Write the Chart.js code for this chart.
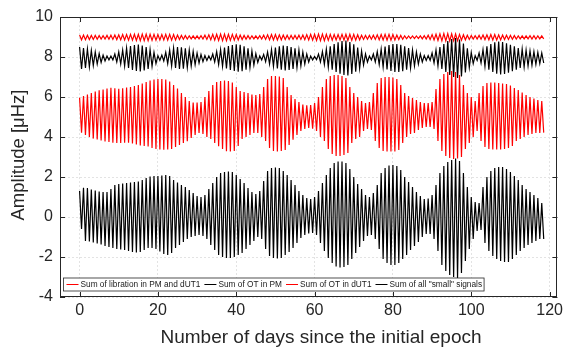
<!DOCTYPE html>
<html>
<head>
<meta charset="utf-8">
<script src="https://cdn.jsdelivr.net/npm/chart.js@4"></script>
<style>
  html, body { margin: 0; padding: 0; background: #fff; }
</style>
</head>
<body>
<canvas id="amplitudes" width="567" height="349"></canvas>
<script>
// Upper and lower swing of each signal, one pair per day (0 .. 118)
const librationHi = [
    9.10, 9.10, 9.09, 9.08, 9.08, 9.07, 9.07, 9.08, 9.09, 9.10,
    9.11, 9.12, 9.12, 9.13, 9.14, 9.14, 9.15, 9.15, 9.14, 9.13,
    9.12, 9.12, 9.13, 9.13, 9.12, 9.10, 9.08, 9.07, 9.06, 9.06,
    9.06, 9.07, 9.09, 9.11, 9.13, 9.14, 9.15, 9.15, 9.14, 9.13,
    9.12, 9.10, 9.08, 9.07, 9.06, 9.06, 9.07, 9.09, 9.11, 9.12,
    9.12, 9.11, 9.10, 9.09, 9.08, 9.08, 9.09, 9.10, 9.12, 9.13,
    9.14, 9.15, 9.15, 9.14, 9.13, 9.12, 9.12, 9.13, 9.14, 9.14,
    9.13, 9.11, 9.09, 9.08, 9.08, 9.09, 9.11, 9.12, 9.13, 9.13,
    9.12, 9.10, 9.08, 9.06, 9.05, 9.05, 9.05, 9.06, 9.07, 9.09,
    9.12, 9.14, 9.16, 9.17, 9.17, 9.16, 9.15, 9.13, 9.11, 9.09,
    9.07, 9.07, 9.08, 9.10, 9.11, 9.12, 9.12, 9.11, 9.10, 9.09,
    9.08, 9.07, 9.06, 9.06, 9.06, 9.07, 9.07, 9.06, 9.06
];
const librationLo = [
    8.86, 8.86, 8.87, 8.88, 8.89, 8.90, 8.90, 8.89, 8.88, 8.87,
    8.86, 8.85, 8.84, 8.84, 8.83, 8.82, 8.82, 8.82, 8.83, 8.84,
    8.85, 8.85, 8.84, 8.84, 8.85, 8.87, 8.89, 8.90, 8.91, 8.91,
    8.91, 8.90, 8.88, 8.86, 8.84, 8.83, 8.82, 8.82, 8.83, 8.84,
    8.85, 8.87, 8.89, 8.90, 8.91, 8.91, 8.90, 8.88, 8.86, 8.85,
    8.85, 8.86, 8.87, 8.88, 8.89, 8.89, 8.88, 8.87, 8.85, 8.84,
    8.83, 8.82, 8.82, 8.83, 8.84, 8.85, 8.85, 8.84, 8.83, 8.83,
    8.84, 8.86, 8.88, 8.89, 8.89, 8.88, 8.86, 8.85, 8.84, 8.84,
    8.85, 8.87, 8.89, 8.91, 8.92, 8.92, 8.92, 8.91, 8.90, 8.88,
    8.85, 8.83, 8.81, 8.80, 8.80, 8.81, 8.82, 8.84, 8.86, 8.88,
    8.90, 8.90, 8.89, 8.87, 8.86, 8.85, 8.85, 8.86, 8.87, 8.88,
    8.89, 8.90, 8.91, 8.91, 8.91, 8.90, 8.90, 8.91, 8.91
];

const otPmHi = [
    8.50, 8.45, 8.40, 8.33, 8.25, 8.17, 8.10, 8.05, 8.05, 8.15,
    8.25, 8.35, 8.45, 8.55, 8.60, 8.62, 8.57, 8.50, 8.37, 8.23,
    8.07, 8.10, 8.23, 8.35, 8.45, 8.50, 8.48, 8.43, 8.35, 8.28,
    8.20, 8.13, 8.07, 8.05, 8.15, 8.27, 8.37, 8.47, 8.55, 8.60,
    8.63, 8.61, 8.53, 8.43, 8.30, 8.17, 8.05, 8.13, 8.25, 8.37,
    8.47, 8.53, 8.57, 8.55, 8.50, 8.43, 8.35, 8.25, 8.15, 8.05,
    8.03, 8.15, 8.27, 8.40, 8.53, 8.65, 8.73, 8.80, 8.82, 8.75,
    8.63, 8.47, 8.30, 8.15, 8.05, 8.15, 8.27, 8.40, 8.52, 8.60,
    8.65, 8.65, 8.61, 8.53, 8.45, 8.35, 8.25, 8.15, 8.07, 8.07,
    8.20, 8.35, 8.50, 8.65, 8.80, 8.90, 8.95, 8.87, 8.67, 8.43,
    8.23, 8.07, 8.20, 8.37, 8.53, 8.65, 8.73, 8.77, 8.75, 8.69,
    8.61, 8.53, 8.45, 8.40, 8.35, 8.31, 8.27, 8.23, 8.20
];
const otPmLo = [
    7.40, 7.45, 7.50, 7.57, 7.65, 7.73, 7.80, 7.85, 7.85, 7.75,
    7.65, 7.55, 7.45, 7.35, 7.30, 7.28, 7.33, 7.40, 7.53, 7.67,
    7.83, 7.80, 7.67, 7.55, 7.45, 7.40, 7.42, 7.47, 7.55, 7.62,
    7.70, 7.77, 7.83, 7.85, 7.75, 7.63, 7.53, 7.43, 7.35, 7.30,
    7.27, 7.29, 7.37, 7.47, 7.60, 7.73, 7.85, 7.77, 7.65, 7.53,
    7.43, 7.37, 7.33, 7.35, 7.40, 7.47, 7.55, 7.65, 7.75, 7.85,
    7.87, 7.75, 7.63, 7.50, 7.37, 7.25, 7.17, 7.10, 7.08, 7.15,
    7.27, 7.43, 7.60, 7.75, 7.85, 7.75, 7.63, 7.50, 7.38, 7.30,
    7.25, 7.25, 7.29, 7.37, 7.45, 7.55, 7.65, 7.75, 7.83, 7.83,
    7.70, 7.55, 7.40, 7.25, 7.10, 7.00, 6.95, 7.03, 7.23, 7.47,
    7.67, 7.83, 7.70, 7.53, 7.37, 7.25, 7.17, 7.13, 7.15, 7.21,
    7.29, 7.37, 7.45, 7.50, 7.55, 7.59, 7.63, 7.67, 7.70
];

const otUt1Hi = [
    5.96, 6.05, 6.12, 6.20, 6.28, 6.34, 6.38, 6.42, 6.46, 6.44,
    6.41, 6.44, 6.47, 6.50, 6.55, 6.60, 6.68, 6.75, 6.82, 6.88,
    6.90, 6.90, 6.88, 6.78, 6.60, 6.42, 6.20, 6.00, 5.80, 5.72,
    5.72, 5.75, 6.00, 6.30, 6.60, 6.75, 6.80, 6.82, 6.80, 6.72,
    6.50, 6.30, 6.25, 6.20, 6.12, 6.10, 6.15, 6.50, 6.90, 7.05,
    7.05, 7.02, 6.95, 6.50, 6.10, 5.90, 5.75, 5.62, 5.58, 5.60,
    5.70, 6.00, 6.50, 6.90, 7.05, 7.10, 7.10, 7.05, 6.95, 6.50,
    6.20, 6.00, 5.80, 5.70, 5.75, 6.20, 6.70, 6.95, 7.00, 7.00,
    6.98, 6.90, 6.60, 6.20, 6.05, 5.95, 5.85, 5.75, 5.70, 5.70,
    5.75, 6.40, 6.90, 7.15, 7.25, 7.30, 7.25, 7.10, 6.60, 6.20,
    6.00, 5.80, 6.20, 6.55, 6.70, 6.72, 6.72, 6.70, 6.68, 6.65,
    6.58, 6.45, 6.35, 6.22, 6.10, 6.00, 5.92, 5.85, 5.80
];
const otUt1Lo = [
    4.21, 4.10, 4.00, 3.92, 3.87, 3.82, 3.78, 3.75, 3.71, 3.70,
    3.70, 3.71, 3.71, 3.68, 3.62, 3.58, 3.55, 3.52, 3.45, 3.40,
    3.37, 3.36, 3.38, 3.40, 3.50, 3.60, 3.70, 3.79, 3.95, 4.10,
    4.20, 4.15, 4.00, 3.90, 3.70, 3.54, 3.40, 3.29, 3.28, 3.30,
    3.55, 3.90, 4.00, 4.10, 4.20, 4.20, 4.00, 3.80, 3.45, 3.30,
    3.28, 3.30, 3.35, 3.60, 3.87, 4.10, 4.30, 4.40, 4.45, 4.42,
    4.30, 4.00, 3.80, 3.40, 3.15, 3.05, 3.05, 3.10, 3.20, 3.70,
    3.90, 4.00, 4.30, 4.40, 4.35, 3.80, 3.45, 3.30, 3.27, 3.27,
    3.28, 3.35, 3.70, 4.00, 4.15, 4.20, 4.35, 4.45, 4.50, 4.50,
    4.40, 3.80, 3.30, 3.05, 2.95, 2.90, 2.92, 3.00, 3.40, 3.70,
    4.00, 4.30, 3.80, 3.50, 3.40, 3.37, 3.37, 3.38, 3.40, 3.45,
    3.55, 3.80, 3.90, 4.00, 4.10, 4.15, 4.20, 4.20, 4.22
];

const smallHi = [
    1.30, 1.46, 1.45, 1.37, 1.32, 1.28, 1.25, 1.25, 1.40, 1.60,
    1.65, 1.68, 1.70, 1.72, 1.75, 1.78, 1.85, 1.95, 2.02, 2.05,
    2.05, 2.08, 2.10, 2.05, 1.85, 1.72, 1.60, 1.50, 1.35, 1.20,
    1.05, 1.00, 1.10, 1.40, 1.70, 2.00, 2.20, 2.25, 2.28, 2.25,
    2.10, 1.90, 1.70, 1.45, 1.25, 1.15, 1.30, 1.80, 2.30, 2.45,
    2.48, 2.45, 2.30, 2.10, 1.85, 1.60, 1.30, 1.10, 0.95, 0.90,
    1.00, 1.30, 1.70, 2.10, 2.45, 2.70, 2.78, 2.78, 2.70, 2.40,
    2.00, 1.65, 1.40, 1.10, 1.00, 1.20, 1.60, 2.20, 2.45, 2.58,
    2.60, 2.55, 2.35, 2.00, 1.75, 1.50, 1.25, 1.05, 0.90, 0.92,
    1.10, 1.60, 2.20, 2.55, 2.75, 2.85, 2.92, 2.80, 2.20, 1.50,
    1.00, 0.75, 0.70, 1.50, 2.00, 2.30, 2.45, 2.50, 2.50, 2.40,
    2.25, 2.05, 1.85, 1.60, 1.40, 1.25, 1.10, 0.95, 0.70
];
const smallLo = [
    -0.60, -1.20, -1.22, -1.28, -1.32, -1.38, -1.45, -1.50, -1.55, -1.60,
    -1.62, -1.65, -1.70, -1.75, -1.78, -1.75, -1.65, -1.55, -1.55, -1.60,
    -1.72, -1.85, -1.90, -1.80, -1.55, -1.40, -1.25, -1.10, -1.00, -0.95,
    -0.90, -0.95, -1.10, -1.40, -1.65, -1.90, -2.00, -2.05, -2.05, -2.00,
    -1.90, -1.80, -1.60, -1.40, -1.20, -1.00, -1.10, -1.60, -1.95, -2.05,
    -2.08, -2.05, -1.90, -1.75, -1.55, -1.30, -1.05, -0.90, -0.82, -0.80,
    -0.90, -1.30, -1.70, -2.05, -2.30, -2.48, -2.52, -2.50, -2.40, -2.10,
    -1.80, -1.50, -1.20, -0.95, -0.90, -1.10, -1.60, -2.10, -2.30, -2.40,
    -2.40, -2.30, -2.10, -1.90, -1.65, -1.45, -1.25, -1.00, -0.85, -0.85,
    -1.10, -1.70, -2.40, -2.70, -2.90, -3.00, -3.05, -2.80, -2.20, -1.60,
    -1.10, -0.70, -0.65, -1.30, -1.70, -1.95, -2.10, -2.20, -2.25, -2.25,
    -2.10, -1.90, -1.70, -1.55, -1.40, -1.30, -1.20, -1.10, -1.10
];

const seriesNames = [
    'Sum of libration in PM and dUT1',
    'Sum of OT in PM',
    'Sum of OT in dUT1',
    'Sum of all "small" signals'
];
const seriesColors = ['#ff0000', '#000000', '#ff0000', '#000000'];
const xTickValues = [0, 20, 40, 60, 80, 100, 120];
const yTickValues = [-4, -2, 0, 2, 4, 6, 8, 10];
const xTitle = 'Number of days since the initial epoch';
const yTitle = 'Amplitude [μHz]';

// one swing up and one swing down per day
function zigzag(hi, lo) {
    const pts = [];
    hi.forEach((h, day) => {
        pts.push({ x: day, y: h });
        pts.push({ x: day + 0.5, y: lo[day] });
    });
    return pts;
}

const swings = [
    [librationHi, librationLo],
    [otPmHi, otPmLo],
    [otUt1Hi, otUt1Lo],
    [smallHi, smallLo]
];

const datasets = swings.map(([hi, lo], i) => ({
    label: seriesNames[i],
    data: zigzag(hi, lo),
    borderColor: seriesColors[i],
    borderWidth: 1.2,
    pointRadius: 0,
    tension: 0,
    order: swings.length - i   // later series on top, like the original
}));

const FONT = '"Liberation Sans", Arial, Helvetica, sans-serif';

// box round the axes, inward ticks on all four sides, axis titles and the in-plot legend
const axesBox = {
    id: 'axesBox',
    afterDatasetsDraw(chart) {
        const { ctx, chartArea: a, scales: { x, y } } = chart;
        ctx.save();
        ctx.strokeStyle = '#262626';
        ctx.lineWidth = 1;
        ctx.beginPath();
        x.ticks.forEach(t => {
            const px = Math.round(x.getPixelForValue(t.value)) + 0.5;
            ctx.moveTo(px, a.bottom); ctx.lineTo(px, a.bottom - 5);
            ctx.moveTo(px, a.top); ctx.lineTo(px, a.top + 5);
        });
        y.ticks.forEach(t => {
            const py = Math.round(y.getPixelForValue(t.value)) + 0.5;
            ctx.moveTo(a.left, py); ctx.lineTo(a.left + 5, py);
            ctx.moveTo(a.right, py); ctx.lineTo(a.right - 5, py);
        });
        ctx.stroke();
        ctx.strokeRect(Math.round(a.left) + 0.5, Math.round(a.top) + 0.5,
            Math.round(a.width) - 1, Math.round(a.height) - 1);

        // axis titles
        ctx.fillStyle = '#262626';
        ctx.font = '19px ' + FONT;
        ctx.textAlign = 'center';
        ctx.textBaseline = 'middle';
        ctx.fillText(xTitle, 321, 338);
        ctx.save();
        ctx.translate(19, (a.top + a.bottom) / 2 - 2);
        ctx.rotate(-Math.PI / 2);
        ctx.font = '18.5px ' + FONT;
        ctx.fillText(yTitle, 0, 0);
        ctx.restore();

        // legend
        ctx.textAlign = 'left';
        ctx.font = '8.3px ' + FONT;
        const top = 278, h = 13, left = 63.5;
        let cx = left + 3;
        const items = chart.data.datasets.map(ds => {
            const it = { ds, x: cx };
            cx += 14 + ctx.measureText(ds.label).width + 4;
            return it;
        });
        const right = cx - 2;
        ctx.fillStyle = '#fff';
        ctx.fillRect(left, top, right - left, h);
        ctx.strokeStyle = '#262626';
        ctx.lineWidth = 0.8;
        ctx.strokeRect(left, top, right - left, h);
        items.forEach(it => {
            const my = top + h / 2;
            ctx.strokeStyle = it.ds.borderColor;
            ctx.lineWidth = 1;
            ctx.beginPath();
            ctx.moveTo(it.x, my); ctx.lineTo(it.x + 12, my);
            ctx.stroke();
            ctx.fillStyle = '#1a1a1a';
            ctx.fillText(it.ds.label, it.x + 14, my + 0.5);
        });
        ctx.restore();
    }
};

new Chart(document.getElementById('amplitudes'), {
    type: 'line',
    data: { datasets },
    options: {
        responsive: false,
        animation: false,
        events: [],
        layout: { padding: { top: 17, right: 4, left: 0, bottom: 0 } },
        plugins: { legend: { display: false }, tooltip: { enabled: false } },
        scales: {
            x: {
                type: 'linear',
                min: -5,
                max: 122,
                afterBuildTicks: s => { s.ticks = xTickValues.map(v => ({ value: v })); },
                afterFit: s => { s.height = 52; },
                grid: { color: '#e3e3e3', drawTicks: false },
                border: { display: false, dash: [2, 2] },
                ticks: { color: '#262626', padding: 4, font: { family: FONT, size: 16 }, maxRotation: 0 }
            },
            y: {
                min: -4,
                max: 10,
                afterBuildTicks: s => { s.ticks = yTickValues.map(v => ({ value: v })); },
                afterFit: s => { s.width = 60; },
                grid: { color: '#e3e3e3', drawTicks: false },
                border: { display: false, dash: [2, 2] },
                ticks: { color: '#262626', padding: 7, font: { family: FONT, size: 16 } }
            }
        }
    },
    plugins: [axesBox]
});
</script>
</body>
</html>
